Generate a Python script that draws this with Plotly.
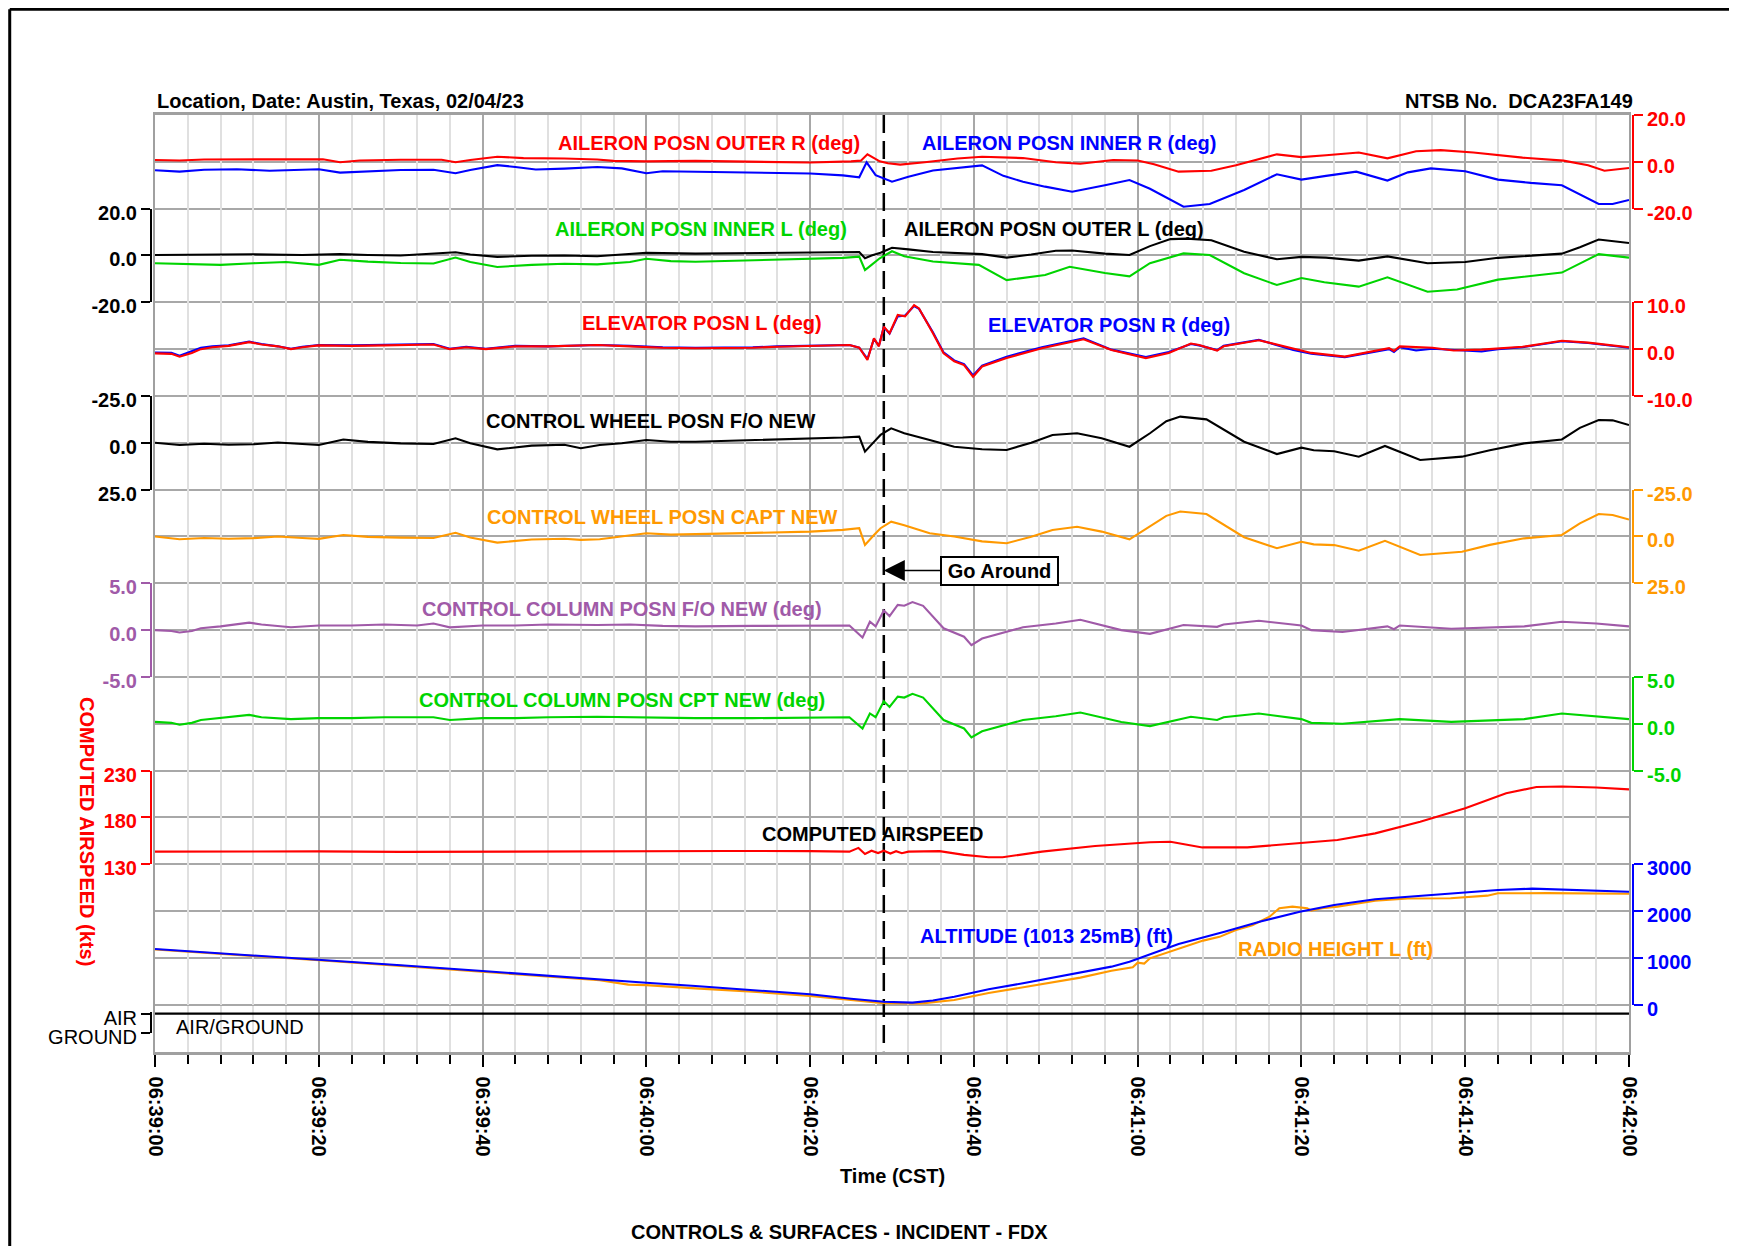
import pandas as pd
import plotly.graph_objects as go

# ---------------- data (seconds after 06:39:00, value) ----------------
T0 = pd.Timestamp("2023-02-04 06:39:00")
SPAN_S = 180
GO_AROUND_T = 89.0

AIL_OUTER_R = [(0,0.8),(3,0.6),(6,1.0),(12,1.1),(18,1.0),(20.5,1.1),(22.6,-0.2),(25,0.6),(30,0.9),(35,0.9),
               (36.7,-0.2),(38.5,0.8),(41.8,2.2),(45,1.6),(50,1.4),(54,1.0),(56,0.4),(60,0.2),(66,0.4),(72,0.2),
               (80,-0.3),(85,0.2),(86.2,0.5),(87,3.2),(87.8,1.6),(88.5,0.2),(89.5,-0.6),(91,-1.2),(94,-0.2),(98,1.4),
               (101,2.2),(106,1.6),(110,-0.2),(113,-0.8),(117,0.8),(120,0.6),(122,-1.0),(125,-4.2),(129,-3.8),(132,-1.5),
               (137,3.2),(140,2.0),(143,2.8),(147,4.0),(150.5,1.5),(154,4.5),(157,5.0),(161,4.0),(167,1.8),(172,0.5),
               (175,-1.5),(177,-3.8),(180,-2.6)]
AIL_INNER_R = [(0,-3.6),(3,-4.2),(6,-3.4),(10,-3.2),(14,-3.8),(18,-3.3),(20,-3.2),(22.6,-4.6),(26,-4.0),(30,-3.5),
               (34,-3.4),(36.7,-4.9),(38.5,-3.5),(41.8,-1.4),(44,-2.2),(46.5,-3.3),(50,-2.9),(54,-2.2),(57,-2.8),(60,-4.9),
               (62,-4.0),(66,-4.2),(72,-4.6),(80,-5.0),(84,-5.8),(86,-6.6),(86.9,-0.2),(88,-5.7),(90,-8.5),(92,-6.4),
               (95,-3.7),(98,-2.6),(101,-1.5),(103.6,-6.0),(106,-8.5),(108.7,-10.6),(112,-12.8),(116,-10.0),(119,-7.8),(121.5,-11.5),
               (125.6,-19.2),(128.8,-18.0),(133,-12.0),(137,-5.3),(140,-7.6),(143,-6.0),(146.7,-4.2),(150.5,-8.0),(153,-4.5),(155.8,-2.8),
               (160,-4.0),(164,-7.6),(168,-9.0),(171.8,-10.0),(174,-14.0),(176.3,-18.0),(178,-18.0),(180,-16.3)]
AIL_INNER_L = [(0,-3.3),(4,-3.6),(8,-4.0),(12,-3.3),(16,-2.8),(20,-4.0),(22.6,-1.8),(26,-2.6),(30,-3.2),(34,-3.4),
               (36.7,-0.9),(38.5,-2.8),(41.8,-4.9),(46,-4.0),(50,-3.5),(54,-3.8),(58,-2.8),(60,-1.4),(63,-2.4),(66,-2.7),
               (72,-2.2),(80,-1.6),(84,-1.0),(86,-0.5),(86.7,-6.2),(87.5,-4.0),(88.5,-1.2),(90,1.8),(91.5,-0.3),(95,-2.6),
               (100.6,-4.0),(104,-10.5),(106,-9.5),(108.7,-8.3),(111.7,-4.8),(116,-7.5),(119,-8.9),(121.5,-3.3),(125.6,0.9),(128.8,0.2),
               (133,-7.6),(137,-12.6),(140,-9.6),(142.8,-11.4),(147,-13.3),(150.5,-9.3),(155.4,-15.5),(159,-14.5),(164,-10.3),(171.8,-7.3),
               (176.3,0.6),(180,-0.9)]
AIL_OUTER_L = [(0,0.2),(6,0.3),(12,0.5),(18,0.2),(22.6,0.6),(26,0.2),(30,0.0),(36.7,1.4),(38.5,0.4),(41.8,-0.6),
               (46,-0.1),(50,0.0),(54,-0.3),(57,0.4),(60,1.1),(66,0.8),(72,1.0),(80,1.2),(86,1.5),(86.7,-1.2),
               (87.5,0.0),(88.6,1.2),(90,3.3),(92,2.6),(95,1.5),(101,0.6),(104,-0.9),(107,0.4),(110,2.0),(112,2.1),
               (116,0.8),(119,0.2),(121.5,4.0),(124,7.0),(126,7.2),(129,6.5),(133,1.6),(137,-1.6),(140,-0.6),(143,-0.9),
               (147,-2.2),(150.5,-0.4),(155.4,-3.3),(160,-2.8),(164,-1.0),(171.8,0.8),(174,3.5),(176.3,6.8),(180,5.3)]
ELEV_L = [(0,-0.9),(2,-1.0),(3,-1.6),(4.5,-0.8),(5.6,0.0),(7,0.4),(9,0.7),(11.5,1.5),(13,1.0),(15,0.6),
          (16.6,0.0),(18,0.4),(20,0.8),(24,0.7),(28,0.8),(32,0.9),(34,1.0),(36,0.0),(38,0.4),(40.4,0.0),
          (44,0.6),(48,0.6),(52,0.8),(54,0.9),(58,0.6),(62,0.3),(66,0.2),(70,0.2),(73,0.3),(76,0.5),
          (80,0.7),(84.8,0.9),(86,0.3),(87,-2.3),(87.8,2.3),(88.4,0.6),(89,4.8),(89.7,3.4),(90.7,7.3),(91.6,7.0),
          (92.7,9.4),(93.3,8.7),(95,3.4),(96.3,-0.9),(97.6,-2.6),(98.8,-3.4),(99.9,-5.9),(101,-3.7),(104,-1.9),(108.3,0.2),
          (113.4,2.1),(116.8,-0.2),(121,-1.9),(123.8,-0.8),(126.5,1.2),(127.5,0.9),(129.7,-0.3),(130.5,0.6),(134.8,1.9),(139,0.2),
          (141.2,-0.8),(145.3,-1.6),(150.7,0.2),(151.3,-0.4),(152,0.6),(156,0.3),(158.6,-0.3),(162,-0.1),(167,0.5),(171.8,1.8),
          (175,1.4),(180,0.4)]
ELEV_R = [(0,-0.7),(2,-0.8),(3,-1.4),(4.5,-0.5),(5.6,0.3),(7,0.6),(9,0.8),(11.5,1.6),(13,1.1),(15,0.6),
          (16.6,0.1),(18,0.5),(20,0.9),(24,0.8),(28,0.9),(32,1.0),(34,1.1),(36,0.1),(38,0.5),(40.4,0.1),
          (44,0.7),(48,0.6),(52,0.8),(54,0.9),(58,0.7),(62,0.4),(66,0.3),(70,0.3),(73,0.4),(76,0.6),
          (80,0.8),(84.8,0.9),(86,0.3),(87,-2.1),(87.8,2.2),(88.4,0.7),(89,4.7),(89.7,3.3),(90.7,7.0),(91.6,7.2),
          (92.7,9.2),(93.3,8.6),(95,3.6),(96.3,-0.7),(97.6,-2.4),(98.8,-3.2),(99.9,-5.6),(101,-3.5),(104,-1.6),(108.3,0.4),
          (113.4,2.3),(116.8,-0.1),(121,-1.7),(123.8,-0.6),(126.5,1.1),(127.5,0.8),(129.7,-0.2),(130.5,0.7),(134.8,2.0),(139,-0.2),
          (141.2,-1.0),(145.3,-1.7),(150.7,0.0),(151.3,-0.6),(152,0.4),(154,-0.3),(156,0.1),(158.6,-0.2),(162,-0.5),(164,0.0),
          (167,0.4),(171.8,1.7),(175,1.3),(180,0.3)]
CW_FO = [(0,0.0),(3,1.2),(6,0.5),(9,1.0),(12,0.8),(15,-0.2),(18,0.6),(20,1.2),(23,-1.8),(26,-0.5),
         (30,0.3),(34,0.6),(36.7,-2.4),(38.5,0.2),(41.8,3.5),(46,1.5),(50,1.0),(52,2.9),(54.3,1.2),(57,0.2),
         (60,-1.5),(63,-0.6),(66,-0.6),(72,-1.2),(80,-2.4),(84,-2.8),(86,-3.3),(86.7,4.7),(87.8,-0.5),(88.6,-4.2),
         (89.9,-7.7),(91.5,-5.1),(94.6,-1.5),(97.6,2.1),(101,3.4),(104,3.8),(107,0.0),(109.6,-4.2),(112.6,-5.1),(115.6,-2.4),
         (119,2.1),(121.5,-5.1),(123.5,-11.5),(125.2,-14.0),(128.4,-12.5),(133,-0.6),(137,6.0),(140,2.6),(141.5,4.0),(144,4.5),
         (147,7.4),(150.2,1.7),(154.5,9.2),(159.6,7.4),(163,4.0),(167.2,0.3),(171.8,-1.8),(174,-8.0),(176.3,-12.2),(178,-12.0),
         (180,-9.5)]
CW_CAPT = [(0,0.0),(3,1.5),(6,0.8),(9,1.2),(12,0.9),(15,0.0),(18,0.8),(20,1.3),(23,-0.8),(26,0.2),
           (30,0.6),(34,0.8),(36.7,-2.0),(38.5,0.5),(41.8,3.3),(46,1.6),(50,1.2),(52,1.8),(54.3,1.5),(57,0.0),
           (60,-1.7),(63,-1.0),(66,-1.2),(72,-1.8),(80,-2.6),(84,-3.5),(86,-4.4),(86.7,4.5),(87.8,-0.8),(88.6,-4.4),
           (89.9,-7.9),(91.5,-6.0),(94.6,-1.7),(97.6,0.0),(101,2.6),(104,3.6),(107,0.2),(109.6,-3.5),(112.6,-5.2),(115.6,-2.6),
           (119,1.5),(121.5,-5.6),(123.5,-11.0),(125.2,-13.3),(128.4,-12.0),(133,0.4),(137,6.3),(140,2.8),(141.5,4.2),(144,4.6),
           (147,7.6),(150.2,2.3),(154.5,9.9),(159.6,8.2),(163,4.5),(167.2,1.0),(171.8,-0.8),(174,-7.0),(176.3,-12.0),(178,-11.5),
           (180,-9.0)]
CC_FO = [(0,0.0),(2,-0.1),(3,-0.25),(4.5,-0.1),(5.6,0.2),(8,0.4),(11.5,0.8),(13,0.6),(16.6,0.3),(20,0.5),
         (24,0.5),(28,0.6),(32,0.5),(34,0.7),(36,0.3),(40,0.5),(44,0.5),(48,0.6),(54,0.55),(58,0.6),
         (62,0.45),(66,0.4),(73,0.45),(80,0.5),(84.8,0.5),(86.4,-0.8),(87.3,0.9),(88,0.4),(89,2.1),(89.7,1.5),
         (90.7,2.7),(91.5,2.6),(92.5,3.0),(93.8,2.6),(96.3,0.2),(98.8,-0.7),(99.7,-1.6),(101,-0.9),(106,0.3),(110,0.7),
         (113,1.1),(118,0.0),(121.5,-0.4),(125.6,0.55),(129.7,0.35),(130.5,0.6),(134.8,1.0),(140,0.5),(141.2,0.0),(145,-0.2),
         (150.5,0.4),(151.3,0.1),(152,0.5),(158.3,0.15),(167.2,0.4),(171.8,0.9),(176,0.7),(180,0.4)]
CC_CPT = [(0,0.2),(2,0.1),(3,-0.1),(4.5,0.1),(5.6,0.4),(8,0.6),(11.5,0.95),(13,0.7),(16.6,0.5),(20,0.6),
          (24,0.6),(28,0.7),(34,0.7),(36,0.4),(40,0.6),(44,0.6),(48,0.7),(54,0.75),(58,0.7),(62,0.6),
          (66,0.6),(73,0.6),(80,0.7),(84.8,0.7),(86.4,-0.5),(87.3,1.1),(88,0.7),(89,2.4),(89.7,1.8),(90.7,2.9),
          (91.5,2.8),(92.5,3.2),(93.8,2.8),(96.3,0.4),(98.8,-0.5),(99.7,-1.45),(101,-0.8),(106,0.4),(110,0.8),(113,1.2),
          (118,0.2),(121.5,-0.25),(126.5,0.75),(129.7,0.4),(130.5,0.7),(134.8,1.1),(140,0.5),(141.2,0.1),(145,0.0),(150.5,0.4),
          (152,0.5),(158.3,0.2),(167.2,0.5),(171.8,1.1),(176,0.8),(180,0.5)]
AIRSPEED = [(0,143.5),(10,144.0),(20,143.8),(30,143.2),(40,143.5),(50,144.0),(60,143.8),(70,144.2),(80,144.0),(84.8,143.5),
            (85.9,147.5),(86.7,141.0),(87.5,144.5),(88.3,142.0),(89,144.5),(89.8,141.5),(90.5,144.0),(91.2,141.8),(92,143.5),(95.8,144.0),
            (98.8,140.0),(101.8,137.5),(103.5,137.5),(108.3,143.5),(114.8,149.5),(118,151.5),(121.5,153.5),(124,154.0),(127.9,148.0),(133.4,148.0),
            (139.8,152.4),(144.4,156.0),(149,163.0),(154.5,175.5),(160,189.8),(165,205.8),(168.7,212.5),(171.8,213.0),(176,212.0),(180,210.0)]
ALTITUDE = [(0,1190),(10,1075),(20,970),(30,845),(40,720),(50,590),(54.3,540),(60,470),(66,400),(73,316),
            (80,225),(85,130),(89,66),(92.5,45),(95,90),(97.6,173),(101.8,330),(106,460),(110.3,600),(113,680),
            (116.8,814),(119,920),(121.5,1080),(125,1300),(130.6,1561),(135,1780),(139.8,1988),(144,2130),(149,2252),(155,2330),
            (160,2393),(164,2451),(168.2,2480),(171.8,2460),(176,2440),(180,2415)]
RADIO_HT = [(0,1180),(10,1070),(20,950),(30,830),(40,700),(50,575),(54.3,525),(57.8,430),(60,420),(66,350),
            (73,280),(80,190),(85,100),(89,32),(93.4,25),(97.6,102),(101.8,250),(106,370),(110.3,493),(113,580),
            (116.8,728),(119.4,800),(120,900),(120.8,880),(121.5,992),(125,1200),(128,1370),(130,1450),(132,1597),(134,1700),
            (135.2,1810),(136.1,1881),(137.3,2060),(138.9,2095),(140.7,2060),(141.2,2010),(142.5,2060),(144.4,2095),(149,2223),(153,2270),
            (158.2,2274),(160.9,2310),(162.7,2330),(164,2380),(170,2385),(180,2370)]
AIR_GROUND = [(0,1),(180,1)]

# ---------------- layout constants (target picture pixels) ----------------
PAGE_W, PAGE_H = 1737, 1254
OFF = 8                                   # default page body margin
W, H = PAGE_W - 2 * OFF, PAGE_H - 2 * OFF
TOP, ROW = 115.0, 46.83
XL, XR = 155.0, 1629.0
LEFT_AX, RIGHT_AX = 151.0, 1633.0
FONT = "Liberation Sans, Arial, sans-serif"
FS = 20

RED, BLUE, GREEN, ORANGE, PURPLE, BLACK = "#FF0000", "#0000FF", "#00D400", "#FF9900", "#A05AA8", "#000000"


def px(x):
    return max(0.0, x - OFF) / W


def py(y):
    return 1 - max(0.0, y - OFF) / H


def ky(k):
    return py(TOP + k * ROW)


def when(s):
    return T0 + pd.Timedelta(seconds=s)


def unzip(pairs):
    return [when(p[0]) for p in pairs], [p[1] for p in pairs]


fig = go.Figure()

# main grid subplot (dashed go-around line)
fig.add_trace(go.Scatter(x=[when(GO_AROUND_T), when(GO_AROUND_T)], y=[0, 20], mode="lines",
                         line=dict(color=BLACK, width=2.5, dash="18px,8px"), xaxis="x", yaxis="y",
                         showlegend=False, hoverinfo="skip"))

# axis specs: name, side, k_top, k_bot, v_top, v_bot, tickvals, ticktext, color, weight
AXES = [
    ("y2", "right", 0, 2, 20, -20, [20, 0, -20], ["20.0", "0.0", "-20.0"], RED, "bold"),
    ("y3", "left", 2, 4, 20, -20, [20, 0, -20], ["20.0", "0.0", "-20.0"], BLACK, "bold"),
    ("y4", "right", 4, 6, 10, -10, [10, 0, -10], ["10.0", "0.0", "-10.0"], RED, "bold"),
    ("y5", "left", 6, 8, -25, 25, [-25, 0, 25], ["-25.0", "0.0", "25.0"], BLACK, "bold"),
    ("y6", "right", 8, 10, -25, 25, [-25, 0, 25], ["-25.0", "0.0", "25.0"], ORANGE, "bold"),
    ("y7", "left", 10, 12, 5, -5, [5, 0, -5], ["5.0", "0.0", "-5.0"], PURPLE, "bold"),
    ("y8", "right", 12, 14, 5, -5, [5, 0, -5], ["5.0", "0.0", "-5.0"], GREEN, "bold"),
    ("y9", "left", 14, 16, 230, 130, [230, 180, 130], ["230", "180", "130"], RED, "bold"),
    ("y10", "right", 16, 19, 3000, 0, [3000, 2000, 1000, 0], ["3000", "2000", "1000", "0"], BLUE, "bold"),
    ("y11", "left", 19.15, 19.6, 1.0976, 0, [1, 0], ["AIR", "GROUND"], BLACK, "normal"),
]

SERIES = [
    ("y2", AIL_OUTER_R, RED), ("y2", AIL_INNER_R, BLUE),
    ("y3", AIL_OUTER_L, BLACK), ("y3", AIL_INNER_L, GREEN),
    ("y4", ELEV_R, BLUE), ("y4", ELEV_L, RED),
    ("y5", CW_FO, BLACK), ("y6", CW_CAPT, ORANGE),
    ("y7", CC_FO, PURPLE), ("y8", CC_CPT, GREEN),
    ("y9", AIRSPEED, RED),
    ("y10", RADIO_HT, ORANGE), ("y10", ALTITUDE, BLUE),
    ("y11", AIR_GROUND, BLACK),
]

for ax, pairs, col in SERIES:
    xs, ys = unzip(pairs)
    fig.add_trace(go.Scatter(x=xs, y=ys, mode="lines", line=dict(color=col, width=2.1),
                             xaxis="x", yaxis=ax, showlegend=False, hoverinfo="skip"))

layout_axes = {}
for name, side, kt, kb, vt, vb, tv, tt, col, wt in AXES:
    key = "yaxis" + name[1:]
    # labels sit a few pixels below their ticks, as in the original
    shift = 4 if vt > vb else -4
    layout_axes[key] = dict(
        domain=[ky(kb), ky(kt)], range=[vb, vt], anchor="free",
        position=px(LEFT_AX) if side == "left" else px(RIGHT_AX), side=side,
        showline=True, linecolor=col, linewidth=2,
        ticks="outside", ticklen=9, tickwidth=2, tickcolor=col,
        tickmode="array", tickvals=tv, ticktext=tt, ticklabelshift=shift,
        tickfont=dict(family=FONT, size=FS, color=col, weight=wt),
        showgrid=False, zeroline=False, fixedrange=True, automargin=False,
    )

fig.update_layout(
    width=W, height=H, autosize=False,
    margin=dict(l=0, r=0, t=0, b=0, pad=0, autoexpand=False),
    paper_bgcolor="white", plot_bgcolor="rgba(0,0,0,0)",
    font=dict(family=FONT, size=FS, color=BLACK),
    xaxis=dict(
        type="date", domain=[px(XL), px(XR)], anchor="y",
        range=[when(0), when(SPAN_S)],
        tickmode="linear", tick0=when(0), dtick=20000, tickformat="%H:%M:%S",
        tickangle=90, ticks="outside", ticklen=12, tickwidth=2, tickcolor=BLACK,
        ticklabelstandoff=6,
        tickfont=dict(family=FONT, size=FS, color=BLACK, weight="bold"),
        showline=True, linecolor="#A0A0A0", linewidth=3, mirror=True,
        showgrid=True, gridcolor="#A8A8A8", gridwidth=2,
        minor=dict(dtick=4000, tick0=when(0), ticks="outside", ticklen=9, tickwidth=2, tickcolor=BLACK,
                   showgrid=True, gridcolor="#E0E0E0", gridwidth=2),
        zeroline=False, fixedrange=True, automargin=False,
    ),
    yaxis=dict(
        domain=[ky(20), ky(0)], range=[20, 0], anchor="x",
        tickmode="linear", tick0=0, dtick=1, showticklabels=False, ticks="",
        showgrid=True, gridcolor="#A8A8A8", gridwidth=2,
        showline=True, linecolor="#A0A0A0", linewidth=2, mirror=True,
        zeroline=False, fixedrange=True, automargin=False,
    ),
    **layout_axes,
)

# ---------------- text ----------------
LABELS = [
    ("Location, Date: Austin, Texas, 02/04/23", 155, 101, BLACK, "left"),
    ("NTSB No.\u00a0\u00a0DCA23FA149", 1635, 101, BLACK, "right"),
    ("AILERON POSN OUTER R (deg)", 556, 143, RED, "left"),
    ("AILERON POSN INNER R (deg)", 920, 143, BLUE, "left"),
    ("AILERON POSN INNER L (deg)", 553, 229, GREEN, "left"),
    ("AILERON POSN OUTER L (deg)", 902, 229, BLACK, "left"),
    ("ELEVATOR POSN L (deg)", 580, 323, RED, "left"),
    ("ELEVATOR POSN R (deg)", 986, 325, BLUE, "left"),
    ("CONTROL WHEEL POSN F/O NEW", 484, 421, BLACK, "left"),
    ("CONTROL WHEEL POSN CAPT NEW", 485, 517, ORANGE, "left"),
    ("CONTROL COLUMN POSN F/O NEW (deg)", 420, 609, PURPLE, "left"),
    ("CONTROL COLUMN POSN CPT NEW (deg)", 417, 700, GREEN, "left"),
    ("COMPUTED AIRSPEED", 760, 834, BLACK, "left"),
    ("ALTITUDE (1013 25mB) (ft)", 918, 936, BLUE, "left"),
    ("RADIO HEIGHT L (ft)", 1236, 949, ORANGE, "left"),
    ("Time (CST)", 892, 1176, BLACK, "center"),
    ("CONTROLS & SURFACES - INCIDENT - FDX", 839, 1232, BLACK, "center"),
]
for txt, x, y, col, anc in LABELS:
    fig.add_annotation(text=txt, x=px(x), y=py(y), xref="paper", yref="paper",
                       xanchor=anc, yanchor="middle", showarrow=False,
                       font=dict(family=FONT, size=FS, color=col, weight="bold"))

fig.add_annotation(text="AIR/GROUND", x=px(174), y=py(1027), xref="paper", yref="paper",
                   xanchor="left", yanchor="middle", showarrow=False,
                   font=dict(family=FONT, size=FS, color=BLACK))

fig.add_annotation(text="COMPUTED AIRSPEED (kts)", x=px(87), y=py(831), xref="paper", yref="paper",
                   xanchor="center", yanchor="middle", showarrow=False, textangle=90,
                   font=dict(family=FONT, size=FS, color=RED, weight="bold"))

# Go Around callout
fig.add_annotation(text="Go Around", x=when(GO_AROUND_T), y=py(570.5), xref="x", yref="paper",
                   showarrow=True, ax=115.5, ay=0, axref="pixel", ayref="pixel",
                   arrowhead=2, arrowsize=2.8, arrowwidth=1.5, arrowcolor=BLACK, standoff=0,
                   bordercolor=BLACK, borderwidth=2, borderpad=2, bgcolor="white", width=111,
                   font=dict(family=FONT, size=FS, color=BLACK, weight="bold"))

# page frame (left and top edges)
fig.add_shape(type="line", xref="paper", yref="paper", x0=0.001, x1=0.001, y0=0, y1=0.999,
              line=dict(color=BLACK, width=3))
fig.add_shape(type="line", xref="paper", yref="paper", x0=0.001, x1=1, y0=0.999, y1=0.999,
              line=dict(color=BLACK, width=3))

fig.write_html("out.html", config={"displayModeBar": False})
